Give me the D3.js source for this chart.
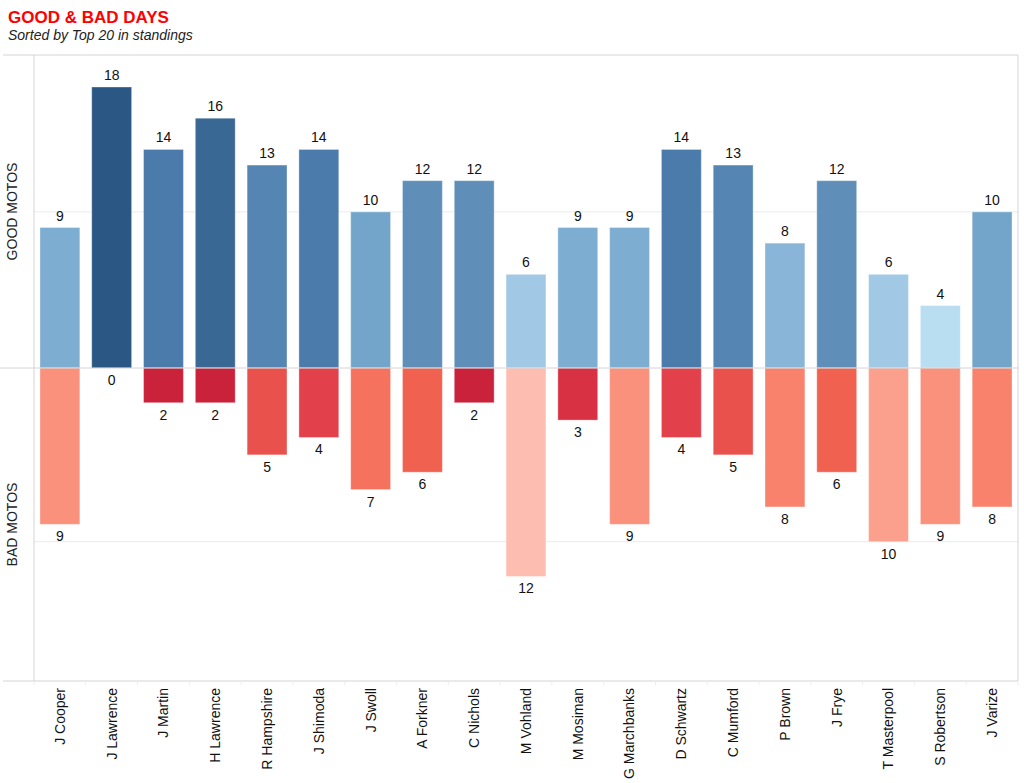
<!DOCTYPE html>
<html>
<head>
<meta charset="utf-8">
<script src="https://cdn.jsdelivr.net/npm/d3@7"></script>
<style>
  body { margin: 0; background: #fff; font-family: Arial, "Liberation Sans", sans-serif; }
</style>
</head>
<body>
<div id="chart"></div>
<script>
const riders = ["J Cooper","J Lawrence","J Martin","H Lawrence","R Hampshire","J Shimoda","J Swoll","A Forkner","C Nichols","M Vohland","M Mosiman","G Marchbanks","D Schwartz","C Mumford","P Brown","J Frye","T Masterpool","S Robertson","J Varize"]
const goodMotos = [9,18,14,16,13,14,10,12,12,6,9,9,14,13,8,12,6,4,10]
const badMotos = [9,0,2,2,5,4,7,6,2,12,3,9,4,5,8,6,10,9,8]
const gridTicks = [10]

const width = 1024, height = 783
const plotLeft = 34, plotRight = 1018, plotTop = 55, plotMid = 368, plotBottom = 681

const svg = d3.select("#chart").append("svg")
    .attr("width", width)
    .attr("height", height)

// title
svg.append("text")
    .attr("x", 8).attr("y", 23)
    .style("font-size", "17px").style("font-weight", "bold")
    .style("fill", "#ff0000")
    .text("GOOD & BAD DAYS")
svg.append("text")
    .attr("x", 8).attr("y", 40)
    .style("font-size", "14px").style("font-style", "italic")
    .style("fill", "#222")
    .text("Sorted by Top 20 in standings")

const x = d3.scaleBand()
    .domain(riders)
    .range([plotLeft, plotRight])
    .paddingInner(0.23)
    .paddingOuter(0.115)

const yGood = d3.scaleLinear().domain([0, 20.05]).range([plotMid, plotTop])
const yBad = d3.scaleLinear().domain([0, 18.02]).range([plotMid, plotBottom])

const blue = d3.scaleLinear()
    .domain([4, 6, 8, 10, 12, 14, 16, 18])
    .range(["#b9ddf1", "#a1c9e5", "#89b5d9", "#73a5ca", "#5f8fb9", "#4a7bab", "#3a6894", "#2a5783"])
const red = d3.scaleLinear()
    .domain([0, 2, 4, 6, 8, 10, 12])
    .range(["#c11a3b", "#cb223c", "#e2404a", "#f0614f", "#f8826c", "#fba08d", "#fdbdb1"])

// grid
svg.append("g").selectAll("line")
  .data(gridTicks)
  .join("line")
    .attr("x1", plotLeft).attr("x2", plotRight)
    .attr("y1", d => yGood(d)).attr("y2", d => yGood(d))
    .attr("stroke", "#ebebeb")
svg.append("g").selectAll("line")
  .data(gridTicks)
  .join("line")
    .attr("x1", plotLeft).attr("x2", plotRight)
    .attr("y1", d => yBad(d)).attr("y2", d => yBad(d))
    .attr("stroke", "#ebebeb")

// bars
const data = riders.map((r, i) => ({ rider: r, good: goodMotos[i], bad: badMotos[i] }))

svg.append("g").selectAll("rect")
  .data(data)
  .join("rect")
    .attr("x", d => x(d.rider))
    .attr("width", x.bandwidth())
    .attr("y", d => yGood(d.good))
    .attr("height", d => yGood(0) - yGood(d.good))
    .attr("fill", d => blue(d.good))
    .attr("stroke", "rgba(255,255,255,0.35)")

svg.append("g").selectAll("rect")
  .data(data)
  .join("rect")
    .attr("x", d => x(d.rider))
    .attr("width", x.bandwidth())
    .attr("y", yBad(0))
    .attr("height", d => yBad(d.bad) - yBad(0))
    .attr("fill", d => red(d.bad))
    .attr("stroke", d => d.bad == 0 ? "#e58a9a" : "rgba(255,255,255,0.35)")

// value labels
svg.append("g").selectAll("text")
  .data(data)
  .join("text")
    .attr("x", d => x(d.rider) + x.bandwidth() / 2)
    .attr("y", d => yGood(d.good) - 7)
    .attr("text-anchor", "middle")
    .style("font-size", "14px").style("fill", "#111")
    .text(d => d.good)

svg.append("g").selectAll("text")
  .data(data)
  .join("text")
    .attr("x", d => x(d.rider) + x.bandwidth() / 2)
    .attr("y", d => yBad(d.bad) + 17)
    .attr("text-anchor", "middle")
    .style("font-size", "14px").style("fill", "#111")
    .text(d => d.bad)

// frame lines
const frame = svg.append("g").attr("stroke", "#d4d4d4")
frame.append("line").attr("x1", 3).attr("x2", plotRight).attr("y1", plotTop).attr("y2", plotTop)
frame.append("line").attr("x1", 3).attr("x2", plotRight).attr("y1", plotBottom).attr("y2", plotBottom)
frame.append("line").attr("x1", 0).attr("x2", plotRight).attr("y1", plotMid).attr("y2", plotMid)
frame.append("line").attr("x1", plotLeft).attr("x2", plotLeft).attr("y1", plotTop).attr("y2", plotBottom)
frame.append("line").attr("x1", plotRight).attr("x2", plotRight).attr("y1", plotTop).attr("y2", plotBottom)

// x axis
const xAxis = svg.append("g")
    .attr("transform", `translate(0,${plotBottom})`)
    .call(d3.axisBottom(x).tickSize(0).tickPadding(0))
xAxis.select(".domain").remove()
xAxis.selectAll("text")
    .attr("transform", "rotate(-90)")
    .attr("x", -7).attr("y", 0).attr("dy", "0.35em")
    .attr("text-anchor", "end")
    .style("font-size", "14px").style("fill", "#111")
    .style("font-family", "Arial, 'Liberation Sans', sans-serif")

// boundary ticks
svg.append("g").selectAll("line")
  .data(d3.range(riders.length + 1))
  .join("line")
    .attr("x1", d => plotLeft + d * x.step())
    .attr("x2", d => plotLeft + d * x.step())
    .attr("y1", plotBottom).attr("y2", plotBottom + 4)
    .attr("stroke", "#ececec")

// y titles
svg.append("text")
    .attr("transform", `translate(17,${(plotTop + plotMid) / 2}) rotate(-90)`)
    .attr("text-anchor", "middle")
    .style("font-size", "14px").style("fill", "#222")
    .text("GOOD MOTOS")
svg.append("text")
    .attr("transform", `translate(17,${(plotMid + plotBottom) / 2}) rotate(-90)`)
    .attr("text-anchor", "middle")
    .style("font-size", "14px").style("fill", "#222")
    .text("BAD MOTOS")
</script>
</body>
</html>
